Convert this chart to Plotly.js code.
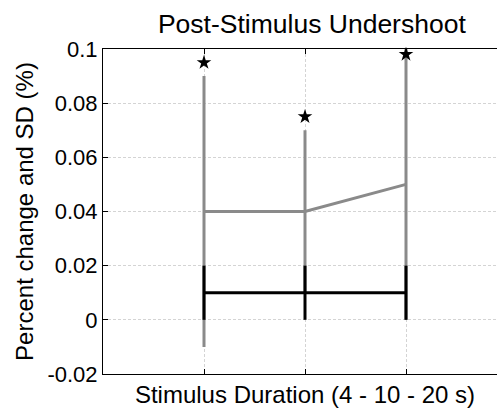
<!DOCTYPE html>
<html>
<head>
<meta charset="utf-8">
<script src="https://cdn.plot.ly/plotly-3.0.1.min.js"></script>
<style>
  html, body { margin: 0; padding: 0; overflow: hidden; background: #fff; }
  #chart { width: 510px; height: 419px; }
</style>
</head>
<body>
<div id="chart"></div>
<script>
// Stimulus conditions (4, 10, 20 s) placed at x = 1, 2, 3
const conditions = [1, 2, 3];

// Grey series: mean percent change and its SD
const greyMean = [0.04, 0.04, 0.05];
const greySD = [0.05, 0.03, 0.05];

// Black series: mean percent change and its SD
const blackMean = [0.01, 0.01, 0.01];
const blackSD = [0.01, 0.01, 0.01];

// Significance stars
const starY = [0.095, 0.075, 0.098];

// Y-axis ticks
const yTickVals = [-0.02, 0, 0.02, 0.04, 0.06, 0.08, 0.1];
const yTickText = ['-0.02', '0', '0.02', '0.04', '0.06', '0.08', '0.1'];

const font = 'Liberation Sans, Arial, sans-serif';

const traces = [
  {
    x: conditions, y: greyMean, type: 'scatter', mode: 'lines',
    line: { color: '#8a8a8a', width: 3 },
    error_y: { type: 'data', array: greySD, visible: true, color: '#8a8a8a', thickness: 3, width: 0 },
    hoverinfo: 'skip', showlegend: false, cliponaxis: false
  },
  {
    x: conditions, y: blackMean, type: 'scatter', mode: 'lines',
    line: { color: '#000000', width: 3 },
    error_y: { type: 'data', array: blackSD, visible: true, color: '#000000', thickness: 3, width: 0 },
    hoverinfo: 'skip', showlegend: false
  },
  {
    x: conditions, y: starY, type: 'scatter', mode: 'markers',
    marker: { symbol: 'star', size: 11, color: '#000000' },
    hoverinfo: 'skip', showlegend: false, cliponaxis: false
  }
];

const layout = {
  width: 510, height: 419,
  margin: { l: 103, r: 3, t: 49, b: 45 },
  paper_bgcolor: '#ffffff', plot_bgcolor: '#ffffff',
  font: { family: font, color: '#000000', size: 22 },
  showlegend: false,
  xaxis: {
    range: [0, 4],
    tickvals: conditions, showticklabels: false,
    ticks: 'inside', ticklen: 5, tickcolor: '#000', tickwidth: 1,
    showline: true, linecolor: '#000', linewidth: 1, mirror: 'ticks',
    showgrid: true, gridcolor: '#d4d4d4', griddash: '3px,2px', gridwidth: 1,
    zeroline: false,
    title: { text: 'Stimulus Duration (4 - 10 - 20 s)', font: { size: 24, family: font }, standoff: 12 }
  },
  yaxis: {
    range: [-0.02, 0.1],
    tickvals: yTickVals, ticktext: yTickText,
    ticks: 'inside', ticklen: 5, tickcolor: '#000', tickwidth: 1,
    showline: true, linecolor: '#000', linewidth: 1, mirror: 'ticks',
    showgrid: true, gridcolor: '#d4d4d4', griddash: '3px,2px', gridwidth: 1,
    zeroline: false,
    tickfont: { size: 22, family: font },
    title: { text: 'Percent change and SD (%)', font: { size: 24, family: font }, standoff: 7 }
  },
  title: {
    text: 'Post-Stimulus Undershoot',
    font: { size: 26.5, family: font },
    x: 0.517, xanchor: 'center', xref: 'paper',
    y: 0.943, yanchor: 'middle', yref: 'container'
  }
};

Plotly.newPlot('chart', traces, layout, { displayModeBar: false, staticPlot: true });
</script>
</body>
</html>
